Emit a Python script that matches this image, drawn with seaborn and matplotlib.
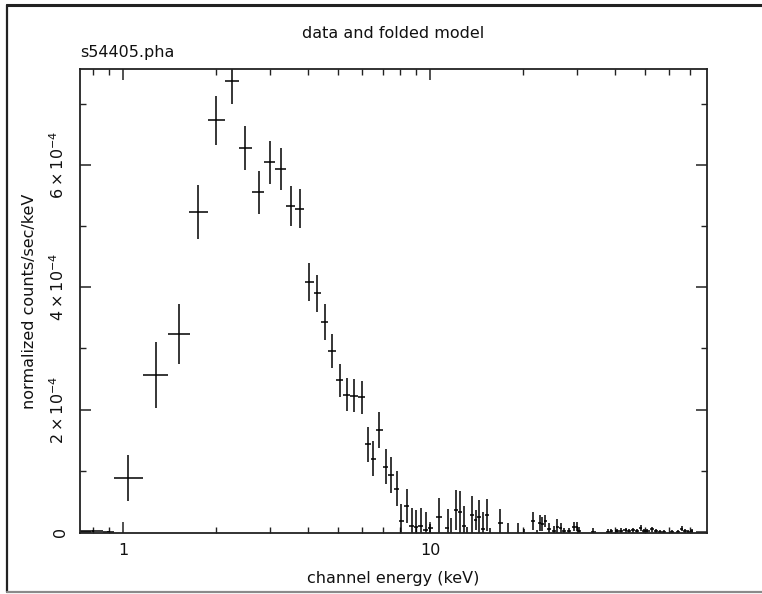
import numpy as np
import pandas as pd
import matplotlib
matplotlib.use("Agg")
import matplotlib.pyplot as plt
import seaborn as sns
from matplotlib.lines import Line2D
from matplotlib.ticker import LogLocator, MultipleLocator, FuncFormatter, NullFormatter

# Channel energies (keV) and bin edges
energy_kev = [0.80, 0.89, 1.04, 1.28, 1.52, 1.75, 2.01, 2.26, 2.50, 2.76,
              3.00, 3.26, 3.51, 3.76, 4.04, 4.28, 4.53, 4.80, 5.07, 5.34,
              5.65, 5.98, 6.28, 6.52, 6.82, 7.16, 7.45, 7.77, 8.03, 8.38,
              8.70, 8.98, 9.33, 9.66, 10.0, 10.67, 11.4, 11.7, 12.13, 12.5,
              12.87, 13.2, 13.7, 14.1, 14.4, 14.8, 15.3, 15.7, 16.9, 17.9,
              19.3, 20.2, 21.6, 22.2, 22.7, 23.2, 23.7, 24.4, 25.3, 25.9,
              26.6, 27.3, 28.3, 29.4, 30.1, 30.6, 34.0, 38.0, 38.8, 40.5,
              41.8, 43.4, 44.5, 45.8, 47.0, 48.5, 49.8, 51.0, 52.6, 54.3,
              56.0, 57.7, 61.1, 63.9, 65.9, 67.6, 69.2, 71.0]
bin_lo = [0.724, 0.86, 0.93, 1.16, 1.40, 1.64, 1.89, 2.14, 2.39, 2.63,
          2.88, 3.13, 3.38, 3.63, 3.90, 4.17, 4.40, 4.66, 4.93, 5.20,
          5.49, 5.81, 6.13, 6.40, 6.67, 6.99, 7.30, 7.61, 7.90, 8.20,
          8.54, 8.84, 9.15, 9.50, 9.83, 10.45, 11.2, 11.55, 11.95, 12.3,
          12.7, 13.05, 13.45, 13.9, 14.25, 14.6, 15.05, 15.5, 16.6, 17.6,
          19.0, 19.9, 21.3, 21.9, 22.45, 22.95, 23.45, 24.05, 24.9, 25.6,
          26.25, 26.95, 27.9, 29.0, 29.75, 30.35, 33.3, 37.5, 38.4, 39.9,
          41.1, 42.6, 43.9, 45.1, 46.4, 47.7, 49.1, 50.4, 51.8, 53.4,
          55.1, 56.8, 60.2, 63.0, 64.9, 66.7, 68.4, 70.1]
bin_hi = [0.86, 0.93, 1.16, 1.40, 1.65, 1.89, 2.14, 2.39, 2.63, 2.88,
          3.13, 3.38, 3.63, 3.88, 4.17, 4.40, 4.66, 4.93, 5.20, 5.49,
          5.81, 6.13, 6.40, 6.67, 6.99, 7.30, 7.61, 7.90, 8.20, 8.54,
          8.84, 9.15, 9.50, 9.83, 10.2, 10.9, 11.55, 11.9, 12.3, 12.7,
          13.05, 13.45, 13.9, 14.25, 14.6, 15.05, 15.5, 16.0, 17.2, 18.2,
          19.6, 20.5, 21.9, 22.45, 22.95, 23.45, 24.05, 24.8, 25.6, 26.25,
          26.95, 27.7, 28.7, 29.75, 30.35, 30.9, 34.7, 38.4, 39.4, 41.1,
          42.6, 43.9, 45.1, 46.4, 47.7, 49.1, 50.4, 51.8, 53.4, 55.1,
          56.8, 58.6, 62.0, 64.9, 66.7, 68.4, 70.1, 71.9]

# Normalized counts/sec/keV, in units of 1e-4, with 1-sigma errors
rate_1e4 = [0.020, 0.008, 0.88, 2.57, 3.24, 5.23, 6.73, 7.37, 6.27, 5.55,
            6.04, 5.93, 5.33, 5.28, 4.09, 3.90, 3.43, 2.96, 2.48, 2.24,
            2.23, 2.20, 1.43, 1.20, 1.67, 1.07, 0.93, 0.71, 0.185, 0.42,
            0.10, 0.087, 0.10, 0.03, 0.06, 0.24, 0.06, -0.07, 0.36, 0.33,
            0.10, -0.20, 0.27, 0.20, 0.24, 0.05, 0.28, -0.20, 0.14, -0.10,
            -0.08, -0.15, 0.185, -0.10, 0.15, 0.13, 0.185, 0.05, 0.01, 0.09,
            0.06, 0.01, 0.01, 0.09, 0.09, 0.02, 0.005, 0.005, 0.01, 0.015,
            0.02, 0.03, 0.015, 0.03, 0.02, 0.06, 0.02, 0.015, 0.045, 0.015,
            0.005, 0.005, 0.005, 0.005, 0.055, 0.02, 0.005, 0.02]
rate_err_1e4 = [0.015, 0.010, 0.38, 0.54, 0.49, 0.44, 0.40, 0.38, 0.36, 0.35,
                0.35, 0.34, 0.33, 0.32, 0.31, 0.30, 0.29, 0.28, 0.27, 0.27,
                0.27, 0.27, 0.29, 0.29, 0.29, 0.29, 0.29, 0.28, 0.28, 0.28,
                0.29, 0.28, 0.29, 0.29, 0.07, 0.31, 0.31, 0.30, 0.33, 0.34,
                0.32, 0.29, 0.32, 0.16, 0.29, 0.28, 0.26, 0.26, 0.24, 0.25,
                0.23, 0.20, 0.15, 0.14, 0.13, 0.12, 0.10, 0.09, 0.09, 0.12,
                0.08, 0.06, 0.05, 0.08, 0.08, 0.06, 0.055, 0.04, 0.04, 0.04,
                0.04, 0.04, 0.03, 0.04, 0.03, 0.05, 0.03, 0.03, 0.04, 0.03,
                0.02, 0.02, 0.02, 0.02, 0.04, 0.03, 0.02, 0.03]

spectrum_name = "s54405.pha"
scale = 1e-4

df = pd.DataFrame({
    "energy": energy_kev,
    "lo": bin_lo,
    "hi": bin_hi,
    "rate": np.array(rate_1e4) * scale,
    "err": np.array(rate_err_1e4) * scale,
})

sns.set_theme(style="ticks")
plt.rcParams["font.family"] = ["DejaVu Sans"]
plt.rcParams["mathtext.fontset"] = "dejavusans"

W, H = 762, 594
fig = plt.figure(figsize=(W / 100, H / 100), dpi=100)
fig.patch.set_facecolor("white")


def fx(x):
    return x / W


def fy(y):
    return 1 - y / H


# outer frame of the page
fig.add_artist(Line2D([fx(7), 1.0], [fy(5), fy(5)], color="#222222", lw=2.2))
fig.add_artist(Line2D([fx(7), fx(7)], [fy(5), fy(592)], color="#222222", lw=1.6))
fig.add_artist(Line2D([fx(7), 1.0], [fy(592), fy(592)], color="#8a8a8a", lw=1.6))

ax = fig.add_axes([fx(80), fy(533), fx(707) - fx(80), fy(69) - fy(533)])
ax.set_facecolor("white")

xerr = np.vstack([df["energy"] - df["lo"], df["hi"] - df["energy"]])
ax.errorbar(df["energy"], df["rate"], xerr=xerr, yerr=df["err"],
            fmt="none", ecolor="black", elinewidth=1.1, capsize=0)

ax.set_xscale("log")
ax.set_xlim(0.723, 79.7)
ax.set_ylim(-0.016e-4, 7.565e-4)

ax.xaxis.set_major_locator(LogLocator(base=10, subs=(1.0,)))
ax.xaxis.set_minor_locator(LogLocator(base=10, subs=np.arange(2, 10)))
ax.xaxis.set_major_formatter(FuncFormatter(lambda v, p: f"{v:g}"))
ax.xaxis.set_minor_formatter(NullFormatter())

ax.yaxis.set_major_locator(MultipleLocator(2e-4))
ax.yaxis.set_minor_locator(MultipleLocator(1e-4))


def yfmt(v, p):
    m = int(round(v / 1e-4))
    if m == 0:
        return "0"
    return r"$%d\times10^{-4}$" % m


ax.yaxis.set_major_formatter(FuncFormatter(yfmt))

for s in ax.spines.values():
    s.set_linewidth(1.3)
    s.set_color("#222222")

ax.tick_params(which="both", direction="in", top=True, right=True,
               color="#222222", labelsize=11.5, labelcolor="#111111")
ax.tick_params(which="major", length=8, width=1.1)
ax.tick_params(which="minor", length=4.5, width=1.0)
ax.tick_params(axis="x", which="major", pad=7)
ax.tick_params(axis="y", which="major", pad=9)
for lab in ax.get_yticklabels():
    lab.set_rotation(90)
    lab.set_va("center")

fig.text(fx(393.5), fy(33), "data and folded model", ha="center", va="center",
         fontsize=11.5, color="#111111")
fig.text(fx(80), fy(53), spectrum_name, ha="left", va="center",
         fontsize=11.5, color="#111111")
fig.text(fx(393.5), fy(578), "channel energy (keV)", ha="center", va="center",
         fontsize=11.5, color="#111111")
fig.text(fx(30), fy(301), "normalized counts/sec/keV", ha="center", va="center",
         rotation=90, fontsize=11.5, color="#111111")

fig.savefig("out.png", dpi=100, facecolor="white")
